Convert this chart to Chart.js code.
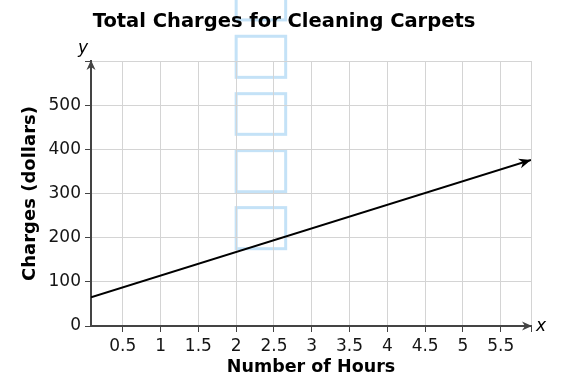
<!DOCTYPE html>
<html>
<head>
<meta charset="utf-8">
<script src="https://cdn.jsdelivr.net/npm/chart.js@4"></script>
<style>
  html, body { margin: 0; padding: 0; background: #fff; }
  #wrap { width: 574px; height: 382px; }
</style>
</head>
<body>
<div id="wrap"><canvas id="c" width="574" height="382"></canvas></div>
<script>
// ---- data ----
const hours   = [0.08, 5.9];          // line endpoints (x)
const charges = [65, 376];            // line endpoints (y, dollars)
const xTicks  = [0.5, 1, 1.5, 2, 2.5, 3, 3.5, 4, 4.5, 5, 5.5];
const yTicks  = [0, 100, 200, 300, 400, 500];
const xRange  = [0.08, 5.9];
const yRange  = [0, 600];
// light-blue answer boxes overlaid on the picture (data units)
const boxX     = [2, 2.655];
const boxYs    = [[175, 268], [304, 397], [434, 526], [563, 656], [693, 786]];

const TITLE = 'Total Charges for Cleaning Carpets';
const FONT = "'DejaVu Sans', Verdana, sans-serif";

function arrowHead(ctx, x, y, ang, len, half, color) {
  ctx.save();
  ctx.translate(x, y);
  ctx.rotate(ang);
  ctx.beginPath();
  ctx.moveTo(0, 0);
  ctx.lineTo(-len, -half);
  ctx.lineTo(-len * 0.7, 0);
  ctx.lineTo(-len, half);
  ctx.closePath();
  ctx.fillStyle = color;
  ctx.fill();
  ctx.restore();
}

const overlay = {
  id: 'overlay',
  beforeDraw(chart) {
    const ctx = chart.ctx, xs = chart.scales.x, ys = chart.scales.y;
    ctx.save();
    ctx.strokeStyle = '#c4e2f7';
    ctx.lineWidth = 3;
    const x0 = xs.getPixelForValue(boxX[0]), x1 = xs.getPixelForValue(boxX[1]);
    boxYs.forEach(b => {
      const y0 = ys.getPixelForValue(b[1]), y1 = ys.getPixelForValue(b[0]);
      ctx.strokeRect(x0, y0, x1 - x0, y1 - y0);
    });
    ctx.restore();
  },
  afterDraw(chart) {
    const ctx = chart.ctx, xs = chart.scales.x, ys = chart.scales.y;
    const a = chart.chartArea;
    // title
    ctx.save();
    ctx.fillStyle = '#000';
    ctx.font = 'bold 19.5px ' + FONT;
    ctx.textAlign = 'center';
    ctx.textBaseline = 'alphabetic';
    ctx.fillText(TITLE, 284, 27);
    ctx.restore();
    // axis arrows
    arrowHead(ctx, a.right + 1, ys.getPixelForValue(0), 0, 10, 4.5, '#444');
    arrowHead(ctx, xs.getPixelForValue(xRange[0]), a.top - 1, -Math.PI / 2, 10, 4.5, '#444');
    // line arrow
    const meta = chart.getDatasetMeta(0);
    const p1 = meta.data[meta.data.length - 2], p2 = meta.data[meta.data.length - 1];
    const ang = Math.atan2(p2.y - p1.y, p2.x - p1.x);
    arrowHead(ctx, p2.x, p2.y, ang, 12, 5, '#000');
    // axis letters
    ctx.save();
    ctx.fillStyle = '#000';
    ctx.font = 'italic 17px ' + FONT;
    ctx.textBaseline = 'middle';
    ctx.textAlign = 'left';
    ctx.fillText('x', a.right + 5, ys.getPixelForValue(0) + 1);
    ctx.textAlign = 'center';
    ctx.fillText('y', xs.getPixelForValue(xRange[0]) - 8, a.top - 12);
    ctx.restore();
  }
};

new Chart(document.getElementById('c'), {
  type: 'line',
  data: {
    datasets: [{
      data: hours.map((h, i) => ({ x: h, y: charges[i] })),
      borderColor: '#000',
      borderWidth: 2,
      pointRadius: 0,
      fill: false,
      tension: 0
    }]
  },
  options: {
    responsive: false,
    animation: false,
    events: [],
    layout: { padding: { left: 0, right: 43, top: 61, bottom: 0 } },
    plugins: {
      legend: { display: false },
      tooltip: { enabled: false },
      title: { display: false }
    },
    scales: {
      x: {
        type: 'linear',
        min: xRange[0], max: xRange[1],
        afterBuildTicks: s => { s.ticks = xTicks.concat([xRange[1]]).map(v => ({ value: v })); },
        afterFit: s => { s.height = 56; },
        ticks: {
          autoSkip: false, maxRotation: 0,
          color: '#151515',
          padding: 4,
          font: { family: FONT, size: 17 },
          callback: v => (xTicks.includes(v) ? String(v) : '')
        },
        grid: { color: '#d4d4d4', lineWidth: 1, tickLength: 6, tickColor: '#444' },
        border: { color: '#444', width: 2 },
        title: {
          display: true, text: 'Number of Hours', color: '#000',
          font: { family: FONT, size: 17.5, weight: 'bold' },
          padding: { top: 0, bottom: 4 }
        }
      },
      y: {
        type: 'linear',
        min: yRange[0], max: yRange[1],
        afterBuildTicks: s => { s.ticks = yTicks.concat([yRange[1]]).map(v => ({ value: v })); },
        afterFit: s => { s.width = 91; },
        ticks: {
          autoSkip: false,
          color: '#151515',
          padding: 4,
          font: { family: FONT, size: 17 },
          callback: v => (yTicks.includes(v) ? String(v) : '')
        },
        grid: { color: '#d4d4d4', lineWidth: 1, tickLength: 6, tickColor: '#444' },
        border: { color: '#444', width: 2 },
        title: {
          display: true, text: 'Charges (dollars)', color: '#000',
          font: { family: FONT, size: 18, weight: 'bold' },
          padding: { top: 20, bottom: 0 }
        }
      }
    }
  },
  plugins: [overlay]
});
</script>
</body>
</html>
